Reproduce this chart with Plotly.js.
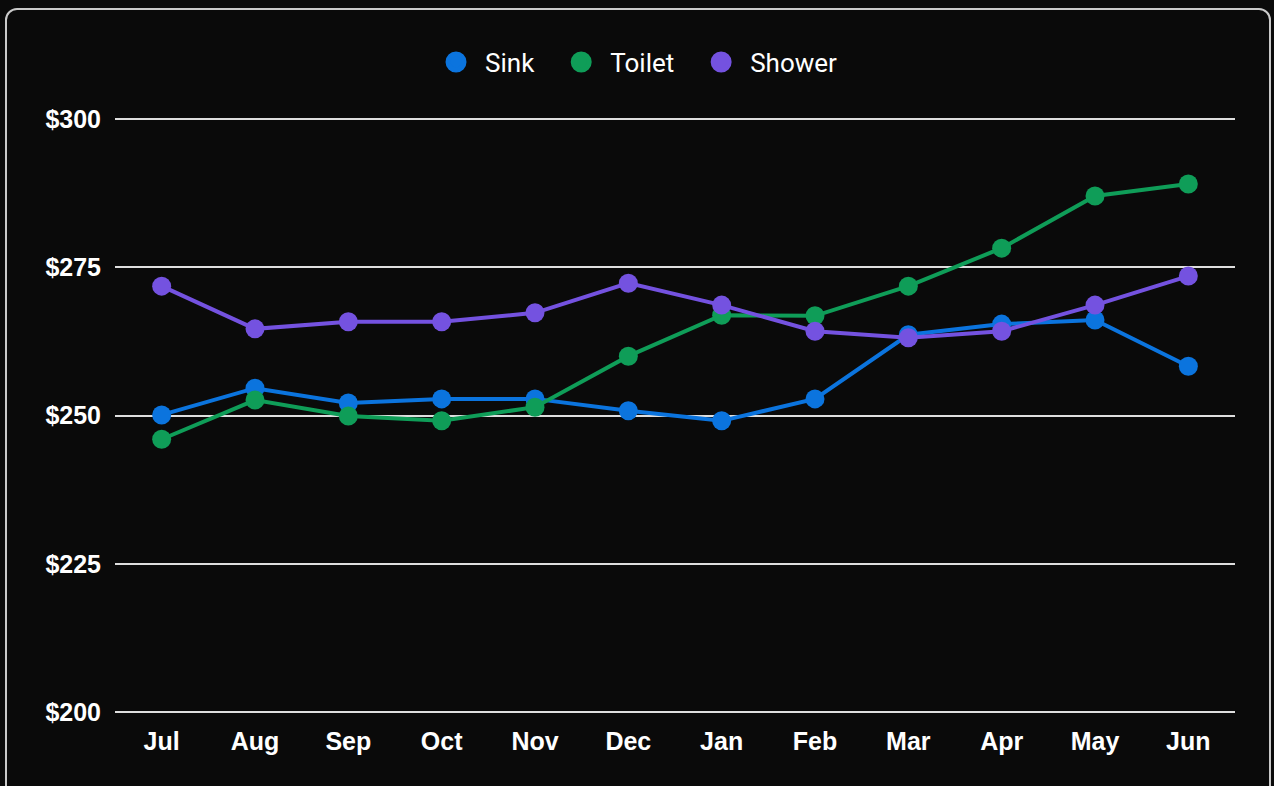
<!DOCTYPE html>
<html>
<head>
<meta charset="utf-8">
<script src="https://cdn.plot.ly/plotly-3.0.1.min.js"></script>
<style>
  html, body { margin: 0; padding: 0; background: #0a0a0a; overflow: hidden; }
  #chart { width: 1274px; height: 786px; }
  #frame { position: absolute; left: 5px; top: 8px; width: 1262px; height: 800px;
           border: 2px solid #c9c9c9; border-radius: 12px; pointer-events: none; z-index: 10; }
</style>
</head>
<body>
<div id="chart"></div>
<div id="frame"></div>
<script>
const months = ["Jul","Aug","Sep","Oct","Nov","Dec","Jan","Feb","Mar","Apr","May","Jun"];
const sink   = [250.1, 254.6, 252.1, 252.8, 252.8, 250.8, 249.1, 252.8, 263.6, 265.4, 266.1, 258.3];
const toilet = [246.0, 252.6, 249.9, 249.1, 251.4, 260.0, 266.9, 266.8, 271.8, 278.2, 287.0, 289.0];
const shower = [271.8, 264.6, 265.8, 265.8, 267.3, 272.3, 268.6, 264.2, 263.1, 264.2, 268.6, 273.5];

const seriesNames = ["Sink", "Toilet", "Shower"];
const seriesData = [sink, toilet, shower];
const colors = ["#0b74de", "#0f9d58", "#7452e0"];

const traces = [];
seriesData.forEach((vals, i) => {
  traces.push({
    x: months, y: vals, type: "scatter", mode: "lines+markers",
    name: seriesNames[i], showlegend: false,
    line: { color: colors[i], width: 4 },
    marker: { color: colors[i], size: 19 }
  });
});
seriesData.forEach((vals, i) => {
  traces.push({
    x: [null], y: [null], type: "scatter", mode: "markers",
    name: seriesNames[i] + (i < seriesNames.length - 1 ? "\u00a0\u00a0" : ""),
    showlegend: true,
    marker: { color: colors[i], size: 25, line: { color: colors[i], width: 5 } }
  });
});

const tickFont = { family: "Liberation Sans, Arial, sans-serif", size: 25, color: "#ffffff", weight: "bold" };

const layout = {
  width: 1274, height: 786,
  paper_bgcolor: "#0a0a0a", plot_bgcolor: "#0a0a0a",
  margin: { l: 115, r: 39, t: 117, b: 72 },
  showlegend: true,
  legend: {
    orientation: "h", x: 0.4643, xanchor: "center", y: 1.092, yanchor: "middle",
    font: { family: "Roboto, sans-serif", size: 26, color: "#ffffff" },
    itemwidth: 48, bgcolor: "rgba(0,0,0,0)"
  },
  xaxis: {
    type: "category", categoryorder: "array", categoryarray: months,
    range: [-0.5, 11.5],
    showgrid: false, zeroline: false, showline: false,
    tickfont: tickFont, ticks: "", ticklabelstandoff: 10
  },
  yaxis: {
    range: [199.7, 300.3], dtick: 25, tick0: 200, tickprefix: "$",
    showgrid: true, gridcolor: "#dedede", gridwidth: 2,
    zeroline: false, showline: false,
    tickfont: tickFont, ticks: "", ticklabelstandoff: 13
  }
};

Plotly.newPlot("chart", traces, layout, { displayModeBar: false, staticPlot: true });
</script>
</body>
</html>
